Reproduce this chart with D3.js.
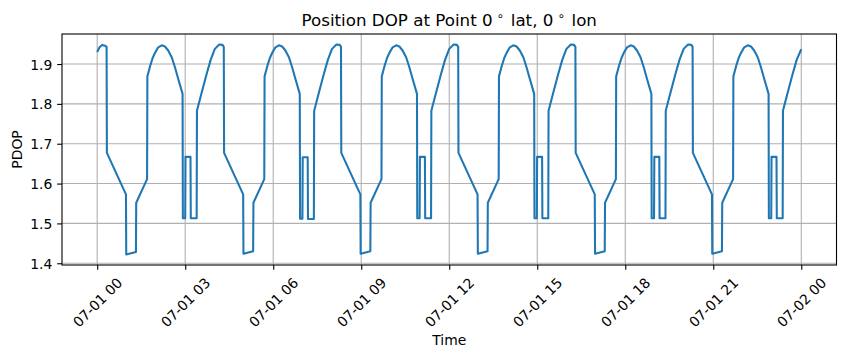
<!DOCTYPE html>
<html><head><meta charset="utf-8">
<script src="https://cdn.jsdelivr.net/npm/d3@7"></script>
<style>
body{margin:0;background:#fff}
svg{display:block}
text{font-family:"DejaVu Sans",sans-serif;fill:#000}
</style>
</head><body>
<svg id="c" width="846" height="358"></svg>
<script>
// ---------- data ----------
const titleParts = ["Position DOP at Point 0", "∘", " lat, 0", "∘", " lon"];
const xLabel = "Time";
const yLabel = "PDOP";
const xTickHours = [0, 3, 6, 9, 12, 15, 18, 21, 24];
const yTickValues = [1.4, 1.5, 1.6, 1.7, 1.8, 1.9];

// hours after 07-01 00:00
const hours = [
  0.00, 0.08, 0.17, 0.27,
  0.32, 0.33, 0.98, 0.99, 1.32, 1.33, 1.70, 1.71, 1.80, 1.89, 1.97, 2.08, 2.20, 2.31, 2.42, 2.54, 2.65, 2.76, 2.91, 2.92, 3.00, 3.01, 3.18, 3.19, 3.39, 3.40, 3.56, 3.73, 3.87, 4.01, 4.16, 4.27,
  4.315, 4.325, 4.975, 4.985, 5.315, 5.325, 5.695, 5.705, 5.795, 5.885, 5.965, 6.075, 6.195, 6.305, 6.415, 6.535, 6.645, 6.755, 6.905, 6.915, 6.995, 7.005, 7.175, 7.185, 7.385, 7.395, 7.555, 7.725, 7.865, 8.005, 8.155, 8.265,
  8.31, 8.32, 8.97, 8.98, 9.31, 9.32, 9.69, 9.70, 9.79, 9.88, 9.96, 10.07, 10.19, 10.30, 10.41, 10.53, 10.64, 10.75, 10.90, 10.91, 10.99, 11.00, 11.17, 11.18, 11.38, 11.39, 11.55, 11.72, 11.86, 12.00, 12.15, 12.26,
  12.305, 12.315, 12.965, 12.975, 13.305, 13.315, 13.685, 13.695, 13.785, 13.875, 13.955, 14.065, 14.185, 14.295, 14.405, 14.525, 14.635, 14.745, 14.895, 14.905, 14.985, 14.995, 15.165, 15.175, 15.375, 15.385, 15.545, 15.715, 15.855, 15.995, 16.145, 16.255,
  16.30, 16.31, 16.96, 16.97, 17.30, 17.31, 17.68, 17.69, 17.78, 17.87, 17.95, 18.06, 18.18, 18.29, 18.40, 18.52, 18.63, 18.74, 18.89, 18.90, 18.98, 18.99, 19.16, 19.17, 19.37, 19.38, 19.54, 19.71, 19.85, 19.99, 20.14, 20.25,
  20.295, 20.305, 20.955, 20.965, 21.295, 21.305, 21.675, 21.685, 21.775, 21.865, 21.945, 22.055, 22.175, 22.285, 22.395, 22.515, 22.625, 22.735, 22.885, 22.895, 22.975, 22.985, 23.155, 23.165, 23.365, 23.375, 23.535, 23.705, 23.845, 24.00
];
const pdop = [
  1.930, 1.942, 1.948, 1.946,
  1.943, 1.677, 1.573, 1.422, 1.428, 1.552, 1.611, 1.869, 1.894, 1.915, 1.928, 1.942, 1.947, 1.944, 1.934, 1.917, 1.892, 1.863, 1.825, 1.513, 1.513, 1.667, 1.667, 1.513, 1.513, 1.783, 1.828, 1.875, 1.911, 1.938, 1.949, 1.948,
  1.943, 1.677, 1.573, 1.424, 1.430, 1.552, 1.611, 1.869, 1.894, 1.915, 1.928, 1.942, 1.947, 1.944, 1.934, 1.917, 1.892, 1.863, 1.825, 1.512, 1.512, 1.666, 1.666, 1.511, 1.511, 1.782, 1.828, 1.875, 1.911, 1.938, 1.949, 1.948,
  1.943, 1.677, 1.573, 1.424, 1.430, 1.552, 1.611, 1.869, 1.894, 1.915, 1.928, 1.942, 1.947, 1.944, 1.934, 1.917, 1.892, 1.863, 1.825, 1.513, 1.513, 1.667, 1.667, 1.513, 1.513, 1.783, 1.828, 1.875, 1.911, 1.938, 1.949, 1.948,
  1.943, 1.677, 1.573, 1.424, 1.430, 1.552, 1.611, 1.869, 1.894, 1.915, 1.928, 1.942, 1.947, 1.944, 1.934, 1.917, 1.892, 1.863, 1.825, 1.513, 1.513, 1.667, 1.667, 1.513, 1.513, 1.783, 1.828, 1.875, 1.911, 1.938, 1.949, 1.948,
  1.943, 1.677, 1.573, 1.424, 1.430, 1.552, 1.611, 1.869, 1.894, 1.915, 1.928, 1.942, 1.947, 1.944, 1.934, 1.917, 1.892, 1.863, 1.825, 1.513, 1.513, 1.667, 1.667, 1.513, 1.513, 1.783, 1.828, 1.875, 1.911, 1.938, 1.949, 1.948,
  1.943, 1.677, 1.573, 1.424, 1.430, 1.552, 1.611, 1.869, 1.894, 1.915, 1.928, 1.942, 1.947, 1.944, 1.934, 1.917, 1.892, 1.863, 1.825, 1.513, 1.513, 1.667, 1.667, 1.513, 1.513, 1.783, 1.828, 1.875, 1.911, 1.937
];

// ---------- layout ----------
const W = 846, H = 358;
const plot = {left: 62, right: 836.5, top: 34, bottom: 265};
const base = new Date(2023, 6, 1, 0, 0, 0);
const toDate = h => new Date(base.getTime() + h * 3600e3);
const data = hours.map((h, i) => ({t: toDate(h), v: pdop[i]}));

const tickLen = 4.86, tickPad = 4.86;
const fs = 13.9;

const svg = d3.select("#c");
svg.append("rect").attr("width", W).attr("height", H).attr("fill", "#fff");

// x domain: data range padded 5% (matplotlib margins)
const t0 = d3.min(data, d => d.t), t1 = d3.max(data, d => d.t);
const tpad = (t1 - t0) * 0.05;
const x = d3.scaleTime()
  .domain([new Date(+t0 - tpad), new Date(+t1 + tpad)])
  .range([plot.left, plot.right]);
const vmin = d3.min(pdop), vmax = d3.max(pdop);
const vpad = (vmax - vmin) * 0.05;
const y = d3.scaleLinear()
  .domain([vmin - vpad, vmax + vpad])
  .range([plot.bottom, plot.top]);

const xTicks = xTickHours.map(toDate);
const fmt = d3.timeFormat("%m-%d %H");

// grid
const grid = svg.append("g").attr("stroke", "#b0b0b0").attr("stroke-width", 1.1);
grid.selectAll("line.gx").data(xTicks).join("line")
  .attr("x1", d => x(d)).attr("x2", d => x(d))
  .attr("y1", plot.top).attr("y2", plot.bottom);
grid.selectAll("line.gy").data(yTickValues).join("line")
  .attr("x1", plot.left).attr("x2", plot.right)
  .attr("y1", d => y(d)).attr("y2", d => y(d));

// line
svg.append("clipPath").attr("id", "clip").append("rect")
  .attr("x", plot.left).attr("y", plot.top)
  .attr("width", plot.right - plot.left).attr("height", plot.bottom - plot.top);
svg.append("path").datum(data)
  .attr("clip-path", "url(#clip)")
  .attr("fill", "none")
  .attr("stroke", "#1f77b4")
  .attr("stroke-width", 2.08)
  .attr("stroke-linejoin", "round")
  .attr("d", d3.line().x(d => x(d.t)).y(d => y(d.v)));

// spines
svg.append("rect")
  .attr("x", plot.left).attr("y", plot.top)
  .attr("width", plot.right - plot.left).attr("height", plot.bottom - plot.top)
  .attr("fill", "none").attr("stroke", "#000").attr("stroke-width", 1.1);

// x axis
const gx = svg.append("g").attr("transform", `translate(0,${plot.bottom})`)
  .call(d3.axisBottom(x).tickValues(xTicks).tickFormat(fmt).tickSize(tickLen).tickPadding(tickPad));
gx.select(".domain").remove();
gx.selectAll(".tick line").attr("stroke", "#000").attr("stroke-width", 1.1);
gx.selectAll(".tick text")
  .attr("font-family", "DejaVu Sans").attr("font-size", fs).attr("fill", "#000")
  .each(function(d) {
    const el = d3.select(this);
    const w = this.getComputedTextLength();
    const hgt = fs * 1.164;
    const box = (w + hgt) * Math.SQRT1_2;
    const cy = tickLen + tickPad + box / 2;
    el.attr("y", null).attr("dy", null).attr("x", 0)
      .attr("text-anchor", "middle")
      .attr("transform", `translate(0,${cy}) rotate(-45)`)
      .attr("dy", (fs * 0.346).toFixed(2));
  });

// y axis
const gy = svg.append("g").attr("transform", `translate(${plot.left},0)`)
  .call(d3.axisLeft(y).tickValues(yTickValues).tickFormat(d3.format(".1f")).tickSize(tickLen).tickPadding(tickPad));
gy.select(".domain").remove();
gy.selectAll(".tick line").attr("stroke", "#000").attr("stroke-width", 1.1);
gy.selectAll(".tick text")
  .attr("font-family", "DejaVu Sans").attr("font-size", fs).attr("fill", "#000")
  .attr("dy", (fs * 0.3645).toFixed(2));

// axis labels
const cx = (plot.left + plot.right) / 2;
svg.append("text").attr("x", cx).attr("y", 345).attr("text-anchor", "middle")
  .attr("font-size", fs).text(xLabel);
svg.append("text").attr("transform", `translate(21.7,${(plot.top + plot.bottom) / 2}) rotate(-90)`)
  .attr("text-anchor", "middle").attr("font-size", fs).text(yLabel);

// title
const tt = svg.append("text").attr("x", cx).attr("y", 26).attr("text-anchor", "middle")
  .attr("font-size", 16.7).attr("xml:space", "preserve");
titleParts.forEach((p, i) => {
  const sup = p === "∘";
  const ts = tt.append("tspan").text(p);
  if (sup) ts.attr("font-size", 11.7).attr("dy", -6.5).attr("dx", 4);
  else if (i > 0) ts.attr("dy", 6.5).attr("dx", 1.5);
});
</script>
</body></html>
